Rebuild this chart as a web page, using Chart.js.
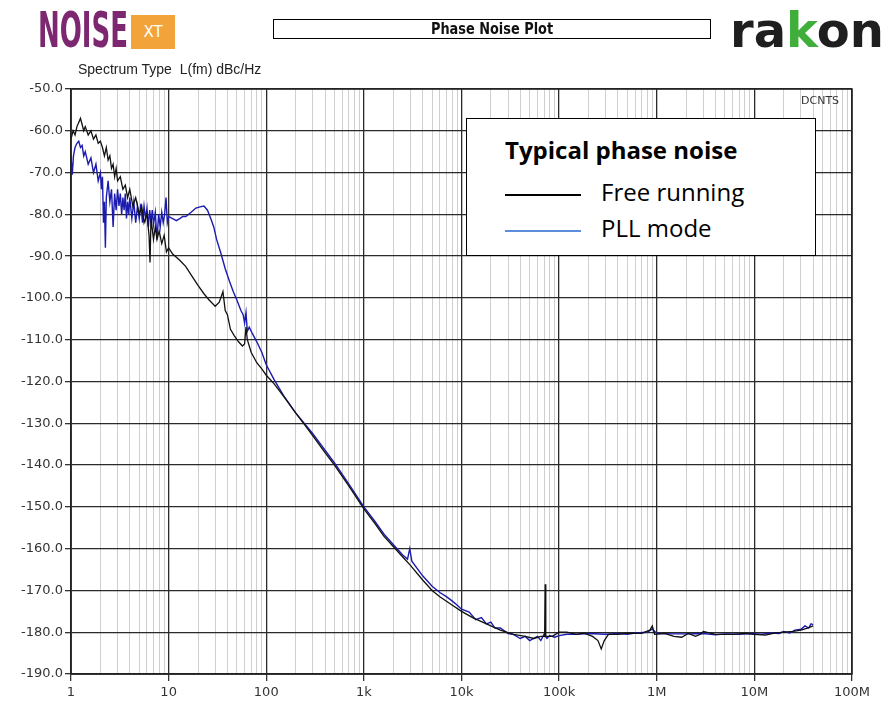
<!DOCTYPE html>
<html>
<head>
<meta charset="utf-8">
<script src="https://cdn.jsdelivr.net/npm/chart.js@4/dist/chart.umd.min.js"></script>
<style>
  html, body { margin: 0; padding: 0; background: #fff; }
  #wrap { position: relative; width: 885px; height: 701px; overflow: hidden; }
  #chart { position: absolute; left: 0; top: 0; }
  .logo { position: absolute; left: 38px; top: 2px; font-family: "DejaVu Sans", sans-serif; font-weight: bold; font-size: 49px; color: #7d2770; transform: scaleX(0.53); transform-origin: left top; white-space: nowrap; }
  .xt { position: absolute; left: 131px; top: 15px; width: 44px; height: 34px; background: #f2a33a; color: #fff; font-family: "DejaVu Sans", sans-serif; font-size: 15px; line-height: 34px; text-align: center; }
  .title { position: absolute; left: 273px; top: 19px; width: 436px; height: 18px; border: 1px solid #000; text-align: center; }
  .title span { display: inline-block; font-family: "DejaVu Sans", sans-serif; font-weight: bold; font-size: 15px; line-height: 18px; color: #111; transform: scaleX(0.86); }
  .rakon { position: absolute; left: 730px; top: 2px; font-family: "DejaVu Sans", sans-serif; font-weight: bold; font-size: 48px; color: #1f1f1f; white-space: nowrap; }
  .rakon span { color: #3fae3a; }
  .spec { position: absolute; left: 78px; top: 61px; font-family: "Liberation Sans", sans-serif; font-size: 14px; color: #222; white-space: nowrap; }
  .dcnts { position: absolute; left: 801px; top: 94px; font-family: "DejaVu Sans", sans-serif; font-size: 11px; color: #333; }
  .legend { position: absolute; left: 466px; top: 118px; width: 348px; height: 136px; border: 1.5px solid #000; background: #fff; font-family: "Open Sans", "Lato", sans-serif; color: #000; }
  .legend .lt { position: absolute; left: 38px; top: 14px; font-weight: bold; font-size: 24px; white-space: nowrap; }
  .legend .row { position: absolute; left: 38px; font-size: 24px; white-space: nowrap; }
  .legend .sw { display: inline-block; width: 76px; height: 0; border-top: 2.5px solid; vertical-align: middle; margin-right: 20px; }
</style>
</head>
<body>
<div id="wrap">
  <canvas id="chart" width="885" height="701"></canvas>
  <div class="logo">NOISE</div>
  <div class="xt">XT</div>
  <div class="title"><span>Phase Noise Plot</span></div>
  <div class="rakon">ra<span>k</span>on</div>
  <div class="spec">Spectrum Type&nbsp; L(fm) dBc/Hz</div>
  <div class="dcnts">DCNTS</div>
  <div class="legend">
    <div class="lt">Typical phase noise</div>
    <div class="row" style="top:56px"><span class="sw" style="border-color:#000"></span>Free running</div>
    <div class="row" style="top:92px"><span class="sw" style="border-color:#5b8fdc"></span>PLL mode</div>
  </div>
</div>
<script>
// offset frequency (Hz) and level (dBc/Hz)
const freeFreq = [1, 1.05, 1.1, 1.15, 1.2, 1.25, 1.3, 1.35, 1.4, 1.5, 1.6, 1.7, 1.8, 1.9, 2.0, 2.1, 2.2, 2.3, 2.4, 2.5,
  2.6, 2.7, 2.8, 2.9, 3.0, 3.2, 3.4, 3.6, 3.8, 4.0, 4.3, 4.6, 5.0, 5.3, 5.6, 6.0, 6.3, 6.45, 6.6, 7.0,
  7.3, 7.6, 8.0, 8.5, 9.0, 9.5, 10, 11, 13, 15, 17, 20, 23, 26, 30, 33, 36, 38, 40, 43,
  47, 52, 57, 60, 62, 64, 70, 80, 90, 100, 120, 150, 200, 250, 300, 400, 500, 700, 1000, 1300,
  1600, 2000, 2500, 3000, 4000, 5000, 6000, 8000, 10000, 13000, 18000, 25000, 34000, 45000, 55000, 65000, 71000, 72000, 73000, 85000,
  100000, 120000, 150000, 180000, 220000, 250000, 270000, 290000, 320000, 400000, 500000, 700000, 850000, 900000, 950000, 1.2e6, 1.5e6, 1.8e6, 2.1e6, 2.5e6,
  2.8e6, 3e6, 4e6, 6e6, 8e6, 1e7, 1.3e7, 1.6e7, 2e7, 2.5e7, 3e7, 3.5e7, 4e7];
const freeLevel = [-62, -60, -61, -59, -58, -57, -58.5, -60, -59, -61, -60, -62, -61, -63, -62.5, -64, -66, -64, -67, -66,
  -69, -68, -71, -69, -72, -71, -74, -73, -76, -74, -78, -76, -80, -78, -82, -80, -85, -91.5, -81, -86,
  -83, -86, -84, -87, -85, -89, -88, -89.5, -91, -92.5, -94.5, -97, -99, -100.5, -102, -101, -98.5, -103, -104, -107.5,
  -109, -110.5, -111.5, -111, -107, -110, -113, -115.5, -117, -118.5, -120.5, -123.5, -127.5, -130.5, -133, -137, -140, -145, -150.5, -154,
  -157, -159.5, -162, -164, -167.5, -170, -171.5, -173.5, -175, -176.5, -178, -179.5, -180.5, -181, -181.5, -181, -181, -168.5, -181, -181,
  -180, -180, -180.5, -180.2, -181, -182, -184, -182, -180.5, -180.5, -180.2, -180.3, -179.5, -178.5, -180.5, -180.3, -181, -181.2, -180.3, -181,
  -180.5, -179.8, -180.5, -180.5, -180.3, -180.5, -180.7, -180.2, -180, -179.8, -179.5, -179, -178.5];

const pllFreq = [1, 1.03, 1.06, 1.1, 1.15, 1.2, 1.25, 1.3, 1.35, 1.4, 1.5, 1.6, 1.7, 1.8, 1.9, 2.0, 2.05, 2.1, 2.15, 2.2,
  2.25, 2.3, 2.4, 2.5, 2.6, 2.7, 2.8, 2.9, 3.0, 3.1, 3.2, 3.3, 3.4, 3.5, 3.6, 3.7, 3.8, 3.9, 4.0, 4.2,
  4.4, 4.6, 4.8, 5.0, 5.2, 5.4, 5.6, 5.8, 6.0, 6.2, 6.4, 6.6, 6.8, 7.0, 7.3, 7.6, 7.9, 8.2, 8.5, 8.8,
  9.1, 9.4, 9.7, 10, 11, 12, 13, 14, 15, 17, 19, 21, 23, 25, 27, 29, 31, 34, 38, 42,
  46, 50, 55, 58, 60, 62, 64, 67, 72, 80, 90, 100, 120, 150, 200, 300, 500, 700, 1000, 1300,
  1600, 2000, 2500, 2800, 2950, 3100, 4000, 5000, 6000, 7000, 8000, 9000, 10000, 12000, 14000, 16000, 18000, 20000, 22000, 25000,
  30000, 34000, 40000, 45000, 50000, 55000, 60000, 65000, 70000, 75000, 80000, 90000, 100000, 120000, 150000, 200000, 300000, 400000, 500000, 600000,
  800000, 900000, 1e6, 1.5e6, 2e6, 3e6, 4e6, 5e6, 7e6, 9e6, 1.2e7, 1.5e7, 1.8e7, 2e7, 2.3e7, 2.6e7, 3e7, 3.3e7, 3.6e7, 3.8e7,
  4e7];
const pllLevel = [-66, -70.5, -66, -64, -63, -62.5, -64, -63.5, -66, -65, -68, -66.5, -70, -68, -72, -70, -74, -71, -82, -77,
  -88, -76, -72, -77, -74, -83, -75, -79, -74, -78, -75, -80, -76, -79, -75, -81, -77, -80, -76, -81,
  -77, -82, -78, -81, -77.5, -82, -78, -81, -78.5, -83, -79, -82, -79, -82.5, -79.5, -86, -80, -83, -79.5, -82,
  -80, -76, -82, -80.5, -81, -81.5, -81, -80.5, -80.5, -79.5, -78.5, -78.2, -78, -79, -81, -83, -86, -89, -93, -96,
  -98.5, -100.5, -103, -104, -106, -103.5, -108, -107, -108.5, -110.5, -113, -116, -119.5, -123.3, -127.5, -132.5, -139.5, -144.5, -150, -153.5,
  -156.5, -159, -161.5, -162.5, -160, -163, -166.5, -169, -170.5, -171.5, -172.5, -173.5, -174.5, -175.2, -177, -176.5, -178, -177.6, -179, -179,
  -180.3, -180.5, -181.5, -181, -182, -181.5, -181, -182, -180.5, -181.5, -180.8, -181.2, -180.8, -180.5, -180.5, -180.3, -180.5, -180.3, -180.5, -180.2,
  -180, -179.2, -180.3, -180.4, -180.4, -180.3, -180.6, -180.4, -180.5, -180.3, -180.5, -180.2, -180.3, -179.8, -180.2, -179.5, -179.3, -178.5, -179, -178,
  -178.2];

const decadeLabels = ["1", "10", "100", "1k", "10k", "100k", "1M", "10M", "100M"];
const levelTicks = [-50, -60, -70, -80, -90, -100, -110, -120, -130, -140, -150, -160, -170, -180, -190];

const toPoints = (xs, ys) => xs.map((x, i) => ({ x: x, y: ys[i] }));

// 1..9 per decade for the log grid
const gridValues = [];
for (let d = 0; d < 8; d++) {
  for (let m = 1; m <= 9; m++) gridValues.push(m * Math.pow(10, d));
}
gridValues.push(1e8);
const isDecade = v => Math.abs(Math.log10(v) - Math.round(Math.log10(v))) < 1e-9;

new Chart(document.getElementById("chart").getContext("2d"), {
  type: "line",
  data: {
    datasets: [
      {
        label: "Free running",
        data: toPoints(freeFreq, freeLevel),
        borderColor: "#111111",
        borderWidth: 1.3,
        pointRadius: 0,
        tension: 0
      },
      {
        label: "PLL mode",
        data: toPoints(pllFreq, pllLevel),
        borderColor: "#1b1bb0",
        borderWidth: 1.4,
        pointRadius: 0,
        tension: 0
      }
    ]
  },
  options: {
    responsive: false,
    animation: false,
    layout: { padding: { left: 0, right: 33, top: 89, bottom: 0 } },
    plugins: { legend: { display: false }, tooltip: { enabled: false } },
    scales: {
      x: {
        type: "logarithmic",
        min: 1,
        max: 1e8,
        afterBuildTicks: scale => {
          scale.ticks = gridValues.map(v => ({ value: v, major: isDecade(v) }));
        },
        afterFit: scale => { scale.height = 27; },
        ticks: {
          autoSkip: false,
          maxRotation: 0,
          padding: 4,
          color: "#333",
          font: { family: "DejaVu Sans", size: 13 },
          callback: v => isDecade(v) ? decadeLabels[Math.round(Math.log10(v))] : ""
        },
        grid: {
          color: c => (c.tick && isDecade(c.tick.value)) ? "#2a2a2a" : "#cfcfcf",
          lineWidth: c => (c.tick && isDecade(c.tick.value)) ? 1.3 : 1,
          tickColor: c => (c.tick && isDecade(c.tick.value)) ? "#333" : "rgba(0,0,0,0)",
          tickLength: 7
        },
        border: { color: "#222", width: 1.5 }
      },
      y: {
        min: -190,
        max: -50,
        afterBuildTicks: scale => {
          scale.ticks = levelTicks.map(v => ({ value: v }));
        },
        afterFit: scale => { scale.width = 71; },
        ticks: {
          padding: 2,
          color: "#333",
          font: { family: "DejaVu Sans", size: 13 },
          callback: v => v.toFixed(1)
        },
        grid: {
          color: "#2a2a2a",
          lineWidth: 1.3,
          tickColor: "#333",
          tickLength: 6
        },
        border: { color: "#222", width: 1.5 }
      }
    }
  },
  plugins: [{
    id: "frame",
    afterDraw(chart) {
      const a = chart.chartArea, g = chart.ctx;
      g.save();
      g.strokeStyle = "#222";
      g.lineWidth = 1.5;
      g.strokeRect(a.left, a.top, a.right - a.left, a.bottom - a.top);
      g.restore();
    }
  }]
});
</script>
</body>
</html>
